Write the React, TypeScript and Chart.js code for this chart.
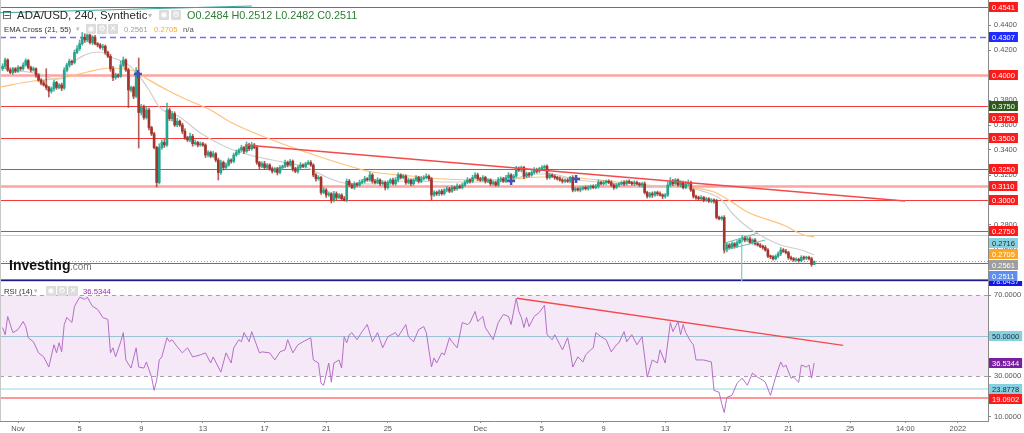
import React, { useEffect, useRef } from 'react';
import { Chart, registerables } from 'chart.js';
Chart.register(...registerables);

const F = '"Liberation Sans", Arial, Helvetica, sans-serif';

// ---------------- DATA ----------------
// 240-minute candles, index 0 = Oct 31 00:00, 6 candles per day
const firstOpen = 0.4050;
const closes = [
  0.4070, 0.4120, 0.4040, 0.4020, 0.4050, 0.4030, 0.4060, 0.4050, 0.4080, 0.4115,
  0.4060, 0.4040, 0.4050, 0.4000, 0.3960, 0.3935, 0.3920, 0.3900, 0.3870, 0.3890,
  0.3940, 0.3900, 0.3920, 0.3895, 0.4040, 0.4080, 0.4110, 0.4100, 0.4180, 0.4210,
  0.4250, 0.4300, 0.4280, 0.4320, 0.4260, 0.4300, 0.4250, 0.4240, 0.4220, 0.4230,
  0.4180, 0.4150, 0.4050, 0.3980, 0.4000, 0.3990, 0.4080, 0.4120, 0.4040, 0.3880,
  0.3900, 0.3830, 0.4020, 0.3700, 0.3740, 0.3660, 0.3720, 0.3580, 0.3530, 0.3420,
  0.3140, 0.3420, 0.3460, 0.3440, 0.3720, 0.3650, 0.3690, 0.3600, 0.3630, 0.3600,
  0.3550, 0.3500, 0.3480, 0.3510, 0.3450, 0.3460, 0.3440, 0.3450, 0.3440, 0.3360,
  0.3380, 0.3350, 0.3370, 0.3320, 0.3220, 0.3300, 0.3260, 0.3280, 0.3320, 0.3310,
  0.3360, 0.3380, 0.3400, 0.3420, 0.3390, 0.3440, 0.3410, 0.3440, 0.3420, 0.3300,
  0.3270, 0.3290, 0.3260, 0.3280, 0.3250, 0.3230, 0.3250, 0.3220, 0.3260, 0.3270,
  0.3300, 0.3280, 0.3310, 0.3250, 0.3230, 0.3260, 0.3280, 0.3270, 0.3290, 0.3300,
  0.3280, 0.3200, 0.3170, 0.3180, 0.3060, 0.3080, 0.3040, 0.3050, 0.3000, 0.3050,
  0.3020, 0.3040, 0.3010, 0.3000, 0.3150, 0.3120, 0.3100, 0.3130, 0.3120, 0.3140,
  0.3150, 0.3170, 0.3160, 0.3200, 0.3150, 0.3140, 0.3160, 0.3130, 0.3140, 0.3100,
  0.3140, 0.3160, 0.3130, 0.3160, 0.3200, 0.3180, 0.3190, 0.3140, 0.3160, 0.3130,
  0.3160, 0.3180, 0.3150, 0.3170, 0.3180, 0.3190, 0.3170, 0.3040, 0.3060, 0.3050,
  0.3070, 0.3050, 0.3080, 0.3090, 0.3070, 0.3100, 0.3090, 0.3110, 0.3100, 0.3120,
  0.3140, 0.3160, 0.3150, 0.3180, 0.3200, 0.3170, 0.3160, 0.3180, 0.3150, 0.3160,
  0.3130, 0.3140, 0.3120, 0.3160, 0.3170, 0.3150, 0.3180, 0.3200, 0.3180, 0.3190,
  0.3250, 0.3240, 0.3260, 0.3190, 0.3210, 0.3200, 0.3220, 0.3240, 0.3230, 0.3250,
  0.3260, 0.3270, 0.3180, 0.3200, 0.3190, 0.3180, 0.3170, 0.3160, 0.3150, 0.3160,
  0.3150, 0.3180, 0.3080, 0.3090, 0.3080, 0.3090, 0.3100, 0.3090, 0.3100, 0.3110,
  0.3100, 0.3110, 0.3140, 0.3130, 0.3140, 0.3150, 0.3140, 0.3120, 0.3100, 0.3120,
  0.3130, 0.3140, 0.3130, 0.3150, 0.3140, 0.3130, 0.3140, 0.3130, 0.3120, 0.3130,
  0.3060, 0.3030, 0.3050, 0.3040, 0.3060, 0.3050, 0.3040, 0.3030, 0.3040, 0.3120,
  0.3150, 0.3130, 0.3160, 0.3120, 0.3140, 0.3100, 0.3130, 0.3140, 0.3080, 0.3030,
  0.3020, 0.3010, 0.3020, 0.3000, 0.3010, 0.2990, 0.3000, 0.2990, 0.2860, 0.2850,
  0.2860, 0.2600, 0.2640, 0.2620, 0.2650, 0.2630, 0.2660, 0.2680, 0.2700, 0.2680,
  0.2690, 0.2660, 0.2680, 0.2650, 0.2640, 0.2630, 0.2620, 0.2600, 0.2550, 0.2545,
  0.2530, 0.2550, 0.2570, 0.2600, 0.2590, 0.2580, 0.2540, 0.2530, 0.2520, 0.2525,
  0.2515, 0.2540, 0.2535, 0.2540, 0.2530, 0.2484, 0.2511,
];
// wick length above / below the body, in 0.0001 units
const hiExt = [
  20, 15, 10, 18, 12, 10, 15, 8, 20, 15,
  10, 12, 15, 8, 10, 12, 20, 130, 10, 15,
  18, 10, 12, 15, 20, 15, 18, 10, 20, 25,
  30, 40, 30, 56, 20, 15, 18, 10, 12, 15,
  10, 12, 15, 20, 15, 10, 30, 24, 10, 15,
  12, 10, 40, 116, 25, 20, 30, 15, 10, 12,
  10, 30, 20, 25, 56, 15, 20, 15, 25, 10,
  15, 20, 10, 25, 15, 20, 10, 15, 12, 10,
  15, 12, 20, 10, 15, 20, 12, 18, 15, 10,
  15, 20, 12, 18, 10, 25, 15, 20, 12, 15,
  10, 15, 20, 12, 10, 15, 10, 12, 15, 10,
  20, 12, 15, 10, 12, 15, 20, 10, 12, 15,
  15, 10, 12, 15, 10, 20, 12, 15, 10, 20,
  15, 12, 10, 20, 18, 15, 12, 15, 10, 20,
  15, 20, 10, 25, 12, 15, 18, 10, 15, 12,
  15, 12, 15, 20, 18, 10, 15, 12, 15, 10,
  12, 15, 10, 18, 15, 20, 12, 10, 15, 12,
  12, 15, 10, 18, 12, 15, 10, 20, 12, 15,
  15, 20, 12, 18, 20, 15, 12, 15, 10, 12,
  10, 15, 12, 20, 15, 12, 18, 20, 12, 15,
  20, 15, 12, 10, 15, 12, 18, 20, 15, 12,
  15, 10, 12, 15, 10, 12, 10, 15, 12, 10,
  12, 10, 15, 12, 10, 15, 10, 12, 15, 10,
  12, 15, 20, 12, 15, 10, 12, 15, 10, 12,
  10, 12, 15, 10, 12, 10, 15, 12, 10, 12,
  15, 10, 12, 15, 10, 12, 15, 10, 12, 25,
  30, 15, 12, 10, 15, 12, 18, 20, 12, 10,
  10, 12, 15, 10, 12, 10, 12, 10, 15, 12,
  12, 15, 20, 12, 15, 10, 15, 12, 15, 10,
  12, 15, 10, 12, 10, 12, 10, 15, 12, 10,
  10, 12, 15, 20, 12, 15, 10, 12, 10, 12,
  10, 15, 12, 10, 12, 12, 1,
];
const loExt = [
  15, 20, 12, 10, 15, 12, 10, 15, 12, 10,
  12, 15, 10, 20, 12, 15, 10, 18, 46, 15,
  20, 15, 12, 20, 10, 12, 15, 20, 12, 10,
  15, 12, 20, 15, 12, 18, 10, 15, 12, 20,
  15, 12, 20, 25, 15, 12, 10, 15, 12, 140,
  15, 20, 12, 284, 20, 15, 12, 20, 15, 12,
  36, 12, 15, 20, 12, 15, 20, 12, 15, 12,
  20, 15, 12, 15, 20, 12, 15, 10, 12, 20,
  15, 12, 10, 15, 60, 15, 20, 12, 10, 15,
  12, 10, 15, 12, 20, 10, 15, 12, 10, 15,
  20, 12, 15, 10, 12, 15, 10, 20, 12, 15,
  12, 15, 10, 20, 12, 15, 10, 12, 15, 10,
  12, 15, 20, 12, 15, 10, 20, 12, 24, 15,
  20, 12, 15, 10, 15, 12, 10, 15, 12, 10,
  12, 15, 10, 12, 15, 12, 10, 15, 12, 20,
  12, 15, 10, 12, 15, 12, 10, 15, 12, 15,
  12, 10, 15, 12, 10, 12, 15, 40, 12, 15,
  15, 12, 10, 15, 12, 10, 15, 12, 10, 12,
  12, 10, 15, 12, 10, 15, 12, 10, 15, 12,
  15, 12, 10, 12, 15, 10, 12, 15, 10, 12,
  10, 12, 15, 20, 12, 15, 10, 12, 15, 10,
  12, 10, 15, 12, 10, 15, 12, 10, 15, 12,
  10, 12, 15, 12, 10, 15, 12, 10, 12, 15,
  10, 12, 15, 10, 12, 15, 10, 12, 15, 10,
  12, 10, 15, 12, 10, 12, 15, 10, 12, 15,
  12, 15, 10, 20, 12, 15, 10, 20, 15, 12,
  12, 15, 10, 12, 15, 12, 10, 15, 12, 15,
  15, 12, 10, 15, 12, 10, 12, 15, 12, 10,
  12, 24, 15, 12, 10, 15, 12, 10, 12, 15,
  12, 10, 15, 12, 10, 12, 15, 10, 12, 15,
  12, 10, 12, 15, 10, 12, 15, 12, 10, 12,
  12, 10, 15, 12, 10, 15, 2,
];

const ema21Idx = [1, 10, 16, 20, 24, 26, 32, 38, 42, 48, 52, 57, 61, 69, 77, 87, 96, 105, 118, 126, 133, 144, 157, 174, 190, 198, 207, 213, 224, 237, 251, 261, 271, 280, 284, 290, 297, 303, 311, 316];
const ema21Val = [0.4040, 0.4024, 0.4000, 0.3965, 0.3976, 0.4064, 0.4160, 0.4184, 0.4144, 0.4096, 0.4024, 0.3880, 0.3744, 0.3664, 0.3536, 0.3424, 0.3360, 0.3320, 0.3264, 0.3184, 0.3136, 0.3128, 0.3152, 0.3144, 0.3144, 0.3160, 0.3208, 0.3208, 0.3160, 0.3136, 0.3104, 0.3104, 0.3080, 0.3000, 0.2896, 0.2784, 0.2696, 0.2640, 0.2600, 0.2561];
const ema55Idx = [-1, 12, 25, 33, 42, 51, 57, 64, 72, 81, 89, 105, 118, 131, 144, 159, 172, 185, 198, 210, 224, 239, 251, 265, 277, 284, 290, 304, 312, 316];
const ema55Val = [0.3904, 0.3952, 0.3984, 0.4024, 0.4056, 0.4032, 0.3960, 0.3880, 0.3800, 0.3720, 0.3620, 0.3480, 0.3384, 0.3296, 0.3224, 0.3192, 0.3168, 0.3160, 0.3168, 0.3184, 0.3176, 0.3144, 0.3120, 0.3104, 0.3064, 0.2984, 0.2904, 0.2800, 0.2720, 0.2705];

const rsiIdx = [0, 1, 2, 4, 6, 8, 9, 10, 12, 14, 16, 18, 20, 21, 22, 23, 24, 25, 27, 28, 30, 32, 33, 35, 37, 39, 41, 42, 43, 44, 46, 47, 48, 50, 52, 53, 55, 56, 58, 59, 60, 61, 62, 64, 65, 66, 68, 70, 72, 74, 77, 79, 81, 82, 85, 87, 89, 90, 92, 93, 94, 96, 97, 100, 101, 104, 106, 108, 110, 111, 113, 115, 117, 120, 121, 123, 124, 125, 127, 128, 129, 131, 132, 133, 134, 135, 136, 138, 140, 142, 144, 146, 148, 150, 153, 154, 157, 158, 160, 162, 164, 165, 167, 168, 169, 171, 172, 174, 175, 177, 179, 181, 182, 184, 185, 187, 188, 189, 191, 193, 195, 197, 198, 200, 201, 202, 203, 204, 205, 207, 209, 211, 212, 214, 215, 217, 218, 220, 221, 222, 224, 226, 227, 229, 230, 231, 233, 235, 237, 239, 240, 242, 243, 245, 247, 249, 251, 253, 255, 256, 258, 260, 261, 263, 264, 265, 266, 268, 269, 270, 273, 276, 277, 279, 280, 281, 282, 284, 286, 288, 290, 292, 294, 296, 297, 299, 301, 303, 304, 305, 307, 308, 310, 311, 313, 314, 315, 316];
const rsiVal = [54, 50.5, 59.5, 51.5, 53, 57, 54.5, 49, 47, 41.5, 39.5, 34.5, 45.5, 41.5, 46.5, 42, 55.5, 59, 56.5, 64.5, 69, 68, 69, 64.5, 63, 59, 58, 41.5, 44, 39.5, 47, 51.5, 38, 34, 44, 34.5, 34, 37, 29.5, 23, 28, 38, 39.5, 49, 47, 48, 44.5, 41.5, 44, 39.5, 40.5, 41.5, 36.5, 39.5, 32, 41.5, 36.5, 44, 48, 47, 51.5, 47, 52, 41.5, 42, 41.5, 38, 42, 43, 48, 41.5, 45.5, 47, 49, 38, 36.5, 26.5, 25.5, 36.5, 27, 36.5, 38, 34, 49.5, 46.5, 50.5, 51.5, 48, 52, 55.5, 47, 51.5, 44, 49.5, 51.5, 49.5, 55.5, 49.5, 47, 53, 54.5, 51.5, 34.5, 39, 36.5, 41.5, 40.5, 49, 47, 44, 56.5, 55.5, 56.5, 62, 57, 59.5, 54, 52, 48, 56.5, 60.5, 59.5, 55.5, 68.5, 62, 59, 54, 59, 54.5, 59.5, 61.5, 65, 50.5, 48, 50.5, 45.5, 43, 49, 43, 34.5, 39.5, 37, 40.5, 43, 44, 51.5, 49.5, 48, 42, 45.5, 46.5, 52, 47, 50.5, 45.5, 49.5, 29.5, 38, 36.5, 43, 36.5, 56.5, 52, 57, 50.5, 55.5, 51.5, 47, 45.5, 38, 38, 37, 23, 22, 16.5, 12, 19.5, 20.5, 26.5, 29, 25.5, 31.5, 29.5, 28, 27, 20.5, 29.5, 37, 34.5, 35.5, 29, 29.5, 27, 35.5, 34.5, 35.5, 29, 36.5344];

const xTickIdx = [6, 30, 54, 78, 102, 126, 150, 186, 210, 234, 258, 282, 306, 330, 351.5, 372];
const xTickLabels = ['Nov', '5', '9', '13', '17', '21', '25', 'Dec', '5', '9', '13', '17', '21', '25', '14:00', '2022'];
const priceTicks = [0.24, 0.26, 0.28, 0.30, 0.32, 0.34, 0.36, 0.38, 0.40, 0.42, 0.44];
const rsiTicks = [10, 20, 30, 40, 50, 60, 70];

const priceLevels = [0.4541, 0.4307, 0.4000, 0.3750, 0.3500, 0.3250, 0.3110, 0.3000, 0.2750, 0.2716, 0.2511, 0.2500];
const rsiLevels = [70, 50, 30, 23.8778, 19.0902];
const rsiBand = [30, 70];

const priceTrendIdx = [94.4, 351.4];
const priceTrendVal = [0.3440, 0.2992];
const rsiTrendIdx = [200.3, 327.3];
const rsiTrendVal = [68.5, 45.2];
const topTrendIdx = [-1, 97];
const topTrendVal = [0.4498, 0.4552];
const flagLowerIdx = [281.3, 297];
const flagLowerVal = [0.2600, 0.2680];
const flagUpperIdx = [281.3, 294.2];
const flagUpperVal = [0.2656, 0.2736];
const flagEdgeIdx = [281.3, 281.3];
const flagEdgeVal = [0.2600, 0.2656];
const flagPoleIdx = [287.8, 287.8];
const flagPoleVal = [0.2694, 0.2352];
const crossIdx = [52.7, 198, 223.3];
const crossVal = [0.4008, 0.3152, 0.3168];

const priceLabelVals = [0.4541, 0.4307, 0.4000, 0.3750, 0.3750, 0.3500, 0.3250, 0.3110, 0.3000, 0.2750, 0.2716, 0.2705, 0.2561, 0.2511];
const rsiLabelVals = [50, 36.5344, 23.8778, 19.0902];
const sepLabelVal = 78.6437;

// ---------------- STYLE ----------------
const RED = '#f23b3b';
const PINK = 'rgba(255,70,70,0.5)';
const BOXRED = '#ff1a1a';
const CYANBOX = '#86d0df';
const UP = '#22a58c';
const DOWN = '#a3342b';
const UPW = 'rgba(34,165,140,0.8)';
const DOWNW = 'rgba(163,52,43,0.8)';

type LS = { c: string; w: number; d?: number[] };
const priceLevelStyle: LS[] = [
  { c: RED, w: 1 },
  { c: '#6f6fff', w: 1.4, d: [6, 4] },
  { c: PINK, w: 2.5 },
  { c: RED, w: 1 },
  { c: RED, w: 1 },
  { c: RED, w: 1 },
  { c: PINK, w: 2.5 },
  { c: RED, w: 1 },
  { c: RED, w: 1 },
  { c: '#a6dbe6', w: 1 },
  { c: '#8aa2c8', w: 1, d: [1, 2] },
  { c: '#4d8a3a', w: 1.2 },
];
const rsiLevelStyle: LS[] = [
  { c: '#a89fae', w: 1, d: [4, 4] },
  { c: '#9cc3d4', w: 1 },
  { c: '#a89fae', w: 1, d: [4, 4] },
  { c: '#b6e3ec', w: 1.5 },
  { c: 'rgba(255,80,80,0.6)', w: 2 },
];
const priceLabelStyle = [
  { bg: BOXRED, fg: '#fff' }, { bg: '#1f2bff', fg: '#fff' }, { bg: BOXRED, fg: '#fff' },
  { bg: '#2d5a1b', fg: '#fff' }, { bg: BOXRED, fg: '#fff' }, { bg: BOXRED, fg: '#fff' },
  { bg: BOXRED, fg: '#fff' }, { bg: BOXRED, fg: '#fff' }, { bg: BOXRED, fg: '#fff' },
  { bg: BOXRED, fg: '#fff' }, { bg: CYANBOX, fg: '#1b2a30' }, { bg: '#ffa51f', fg: '#fff' },
  { bg: '#9e9e9e', fg: '#fff' }, { bg: '#5d8ef0', fg: '#fff' },
];
const rsiLabelStyle = [
  { bg: CYANBOX, fg: '#1b2a30' }, { bg: '#7b1fa2', fg: '#fff' },
  { bg: CYANBOX, fg: '#1b2a30' }, { bg: BOXRED, fg: '#fff' },
];

function hline(ctx: CanvasRenderingContext2D, x0: number, x1: number, py: number, st: LS) {
  ctx.save();
  ctx.strokeStyle = st.c;
  ctx.lineWidth = st.w;
  ctx.setLineDash(st.d || []);
  const yy = Math.round(st.w) % 2 === 1 ? Math.round(py) + 0.5 : Math.round(py);
  ctx.beginPath();
  ctx.moveTo(x0, yy);
  ctx.lineTo(x1, yy);
  ctx.stroke();
  ctx.restore();
}

type Item = { py: number; text: string; bg: string; fg: string };
function drawBoxes(ctx: CanvasRenderingContext2D, x0: number, items: Item[], gap: number) {
  const sorted = items.slice().sort((a, b) => a.py - b.py);
  let prev = -1e9;
  ctx.save();
  ctx.font = `7.5px ${F}`;
  ctx.textBaseline = 'middle';
  ctx.textAlign = 'left';
  for (const it of sorted) {
    const cy = Math.max(it.py, prev + gap);
    prev = cy;
    const w = ctx.measureText(it.text).width + 6;
    const top = Math.round(cy - 5);
    ctx.fillStyle = it.bg;
    ctx.fillRect(x0, top, w, 10);
    ctx.fillStyle = it.fg;
    ctx.fillText(it.text, x0 + 3, top + 5.5);
  }
  ctx.restore();
}

const overlayPlugin = {
  id: 'overlay',
  beforeDatasetsDraw(chart: any) {
    const { ctx, chartArea } = chart;
    const ys = chart.scales.y;
    const rs = chart.scales.rsi;
    const L = chartArea.left;
    const R = chartArea.right;
    ctx.save();
    const y70 = rs.getPixelForValue(rsiBand[1]);
    const y30 = rs.getPixelForValue(rsiBand[0]);
    ctx.fillStyle = 'rgba(156,39,176,0.1)';
    ctx.fillRect(L, y70, R - L, y30 - y70);
    priceLevels.forEach((v, k) => hline(ctx, L, R, ys.getPixelForValue(v), priceLevelStyle[k]));
    rsiLevels.forEach((v, k) => hline(ctx, L, R, rs.getPixelForValue(v), rsiLevelStyle[k]));
    // panel separator
    ctx.fillStyle = 'rgba(120,120,220,0.35)';
    ctx.fillRect(L, ys.bottom - 2, R - L, 3);
    ctx.fillStyle = '#1c1c8c';
    ctx.fillRect(L, ys.bottom - 1.5, R - L, 1.5);
    // left border
    ctx.fillStyle = '#c8c8c8';
    ctx.fillRect(L, chartArea.top, 1, chartArea.bottom - chartArea.top);
    ctx.restore();
  },
  afterDraw(chart: any) {
    const { ctx } = chart;
    const ys = chart.scales.y;
    const rs = chart.scales.rsi;
    const x0 = ys.left + 1;
    ctx.save();
    ctx.beginPath();
    ctx.rect(x0, rs.top, 40, rs.bottom - rs.top);
    ctx.clip();
    drawBoxes(ctx, x0, [{ py: rs.top, text: sepLabelVal.toFixed(4), bg: '#1414e6', fg: '#dfe3ff' }], 0);
    ctx.restore();
    drawBoxes(
      ctx, x0,
      priceLabelVals.map((v, k) => ({ py: ys.getPixelForValue(v), text: v.toFixed(4), ...priceLabelStyle[k] })),
      11.3,
    );
    drawBoxes(
      ctx, x0,
      rsiLabelVals.map((v, k) => ({ py: rs.getPixelForValue(v), text: v.toFixed(4), ...rsiLabelStyle[k] })),
      10.5,
    );
  },
};

const zeroPad = (s: any) => {
  s.paddingTop = 0;
  s.paddingBottom = 0;
  s.paddingLeft = 0;
  s.paddingRight = 0;
};

function Txt(p: { x: number; cy: number; size: number; color: string; bold?: boolean; family?: string; children: any }) {
  const h = Math.ceil(p.size * 1.3);
  return (
    <span
      style={{
        position: 'absolute', left: p.x, top: p.cy - h / 2, height: h, lineHeight: `${h}px`,
        fontSize: p.size, color: p.color, fontWeight: p.bold ? 700 : 400,
        fontFamily: p.family || F, whiteSpace: 'nowrap',
      }}
    >
      {p.children}
    </span>
  );
}

function Btn(p: { x: number; cy: number; g: string }) {
  return (
    <span
      style={{
        position: 'absolute', left: p.x, top: p.cy - 5, width: 10, height: 10, background: '#dcdcdc',
        borderRadius: 1, color: '#fff', fontSize: 8, lineHeight: '10px', textAlign: 'center',
        fontFamily: '"DejaVu Sans", sans-serif',
      }}
    >
      {p.g}
    </span>
  );
}

export default function App() {
  const ref = useRef<HTMLCanvasElement>(null);
  const opens = closes.map((c, i) => (i === 0 ? firstOpen : closes[i - 1]));
  const highs = closes.map((c, i) => Math.max(c, opens[i]) + hiExt[i] / 10000);
  const lows = closes.map((c, i) => Math.min(c, opens[i]) - loExt[i] / 10000);
  const last = closes.length - 1;

  useEffect(() => {
    const canvas = ref.current!;
    const up = closes.map((c, i) => c >= opens[i]);
    const pts = (xs: number[], ys: number[]) => xs.map((x, k) => ({ x, y: ys[k] }));
    const lineDs = (data: any[], color: string, width: number, order: number, yAxisID = 'y', extra: any = {}) => ({
      type: 'line', data, borderColor: color, borderWidth: width, pointRadius: 0, pointHoverRadius: 0,
      fill: false, order, yAxisID, xAxisID: 'x', ...extra,
    });

    const chart = new Chart(canvas, {
      type: 'bar',
      data: {
        datasets: [
          lineDs(pts(ema55Idx, ema55Val), '#ffc17a', 1.2, 7, 'y', { cubicInterpolationMode: 'monotone' }),
          lineDs(pts(ema21Idx, ema21Val), '#cfcfcf', 1.2, 6, 'y', { cubicInterpolationMode: 'monotone' }),
          {
            type: 'bar', data: closes.map((c, i) => ({ x: i, y: [lows[i], highs[i]] })),
            backgroundColor: up.map((u) => (u ? UPW : DOWNW)), barThickness: 1, minBarLength: 1,
            grouped: false, borderWidth: 0, order: 5, yAxisID: 'y', xAxisID: 'x',
          },
          {
            type: 'bar', data: closes.map((c, i) => ({ x: i, y: [opens[i], c] })),
            backgroundColor: up.map((u) => (u ? UP : DOWN)), barThickness: 2, minBarLength: 1,
            grouped: false, borderWidth: 0, order: 4, yAxisID: 'y', xAxisID: 'x',
          },
          lineDs(pts(priceTrendIdx, priceTrendVal), '#f44a4a', 1.3, 3),
          lineDs(pts(topTrendIdx, topTrendVal), '#3fa89a', 1.2, 3),
          lineDs(pts(flagLowerIdx, flagLowerVal), '#5cc3b3', 1, 3),
          lineDs(pts(flagUpperIdx, flagUpperVal), '#5cc3b3', 1, 3),
          lineDs(pts(flagEdgeIdx, flagEdgeVal), '#5cc3b3', 1, 3),
          lineDs(pts(flagPoleIdx, flagPoleVal), '#7ccfc2', 1.2, 3),
          lineDs(pts(rsiIdx, rsiVal), '#b46ec6', 1, 2, 'rsi'),
          lineDs(pts(rsiTrendIdx, rsiTrendVal), '#f44a4a', 1.3, 2, 'rsi'),
          {
            type: 'line', data: pts(crossIdx, crossVal), showLine: false, pointStyle: 'cross',
            pointRadius: 4, pointHoverRadius: 4, pointBorderWidth: 2.5, pointBorderColor: '#4b4fae', borderColor: '#4b4fae',
            order: 1, yAxisID: 'y', xAxisID: 'x',
          },
        ] as any,
      },
      options: {
        animation: false,
        responsive: false,
        maintainAspectRatio: false,
        events: [],
        layout: { padding: 0, autoPadding: false },
        plugins: { legend: { display: false }, tooltip: { enabled: false } },
        scales: {
          x: {
            type: 'linear', position: 'bottom', min: -1.01, max: 383.7, offset: false,
            grid: { display: true, drawOnChartArea: false, drawTicks: true, tickLength: 2, color: '#888', offset: false },
            border: { display: true, color: '#8a8a8a' },
            ticks: {
              autoSkip: false, maxRotation: 0, padding: 1, color: '#555',
              font: { family: F, size: 7.5 },
              callback: (v: any) => {
                const k = xTickIdx.indexOf(Number(v));
                return k >= 0 ? xTickLabels[k] : '';
              },
            },
            afterBuildTicks: (s: any) => { s.ticks = xTickIdx.map((v) => ({ value: v })); },
            afterFit: (s: any) => { s.height = 12; zeroPad(s); },
          },
          y: {
            type: 'linear', position: 'right', stack: 'panes', stackWeight: 281, min: 0.2352, max: 0.46,
            grid: { display: true, drawOnChartArea: false, drawTicks: true, tickLength: 3, color: '#888' },
            border: { display: true, color: '#8a8a8a' },
            ticks: { padding: 3, color: '#555', font: { family: F, size: 7.5 }, callback: (v: any) => Number(v).toFixed(4) },
            afterBuildTicks: (s: any) => { s.ticks = priceTicks.map((v) => ({ value: v })); },
            afterFit: (s: any) => { s.width = 36; zeroPad(s); },
          },
          rsi: {
            type: 'linear', position: 'right', stack: 'panes', stackWeight: 140, min: 7.83, max: 77.02,
            grid: { display: true, drawOnChartArea: false, drawTicks: true, tickLength: 3, color: '#888' },
            border: { display: true, color: '#8a8a8a' },
            ticks: { padding: 3, color: '#555', font: { family: F, size: 7.5 }, callback: (v: any) => Number(v).toFixed(4) },
            afterBuildTicks: (s: any) => { s.ticks = rsiTicks.map((v) => ({ value: v })); },
            afterFit: (s: any) => { s.width = 36; zeroPad(s); },
          },
        },
      } as any,
      plugins: [overlayPlugin as any],
    });
    return () => chart.destroy();
  }, []);

  const ohlc = `O${opens[last].toFixed(4)} H${highs[last].toFixed(4)} L${lows[last].toFixed(4)} C${closes[last].toFixed(4)}`;

  return (
    <div style={{ position: 'absolute', left: 0, top: 0, width: 1024, height: 433, background: '#fff', overflow: 'hidden' }}>
      <canvas ref={ref} width={1024} height={433} style={{ display: 'block', width: 1024, height: 433 }} />
      <div style={{ position: 'absolute', left: 0, top: 0, width: 1024, height: 433, pointerEvents: 'none' }}>
        <Txt x={2} cy={15} size={12} color="#555" family='"DejaVu Sans", sans-serif'>⊟</Txt>
        <Txt x={17} cy={15} size={11.5} color="#2a2a2a">ADA/USD, 240, Synthetic</Txt>
        <Txt x={148} cy={15} size={8} color="#bbb" family='"DejaVu Sans", sans-serif'>▾</Txt>
        <Btn x={159} cy={15} g="◉" />
        <Btn x={171} cy={15} g="⚙" />
        <Txt x={187} cy={15} size={10.8} color="#2e7d32">{ohlc}</Txt>

        <Txt x={4} cy={29} size={7.7} color="#333">EMA Cross (21, 55)</Txt>
        <Txt x={76} cy={29} size={7} color="#bbb" family='"DejaVu Sans", sans-serif'>▾</Txt>
        <Btn x={86} cy={29} g="◉" />
        <Btn x={97} cy={29} g="⚙" />
        <Btn x={108} cy={29} g="✕" />
        <Txt x={124} cy={29} size={7.7} color="#9e9e9e">{ema21Val[ema21Val.length - 1].toFixed(4)}</Txt>
        <Txt x={154} cy={29} size={7.7} color="#ffa726">{ema55Val[ema55Val.length - 1].toFixed(4)}</Txt>
        <Txt x={183} cy={29} size={7.7} color="#555">n/a</Txt>

        <Txt x={4} cy={291} size={7.7} color="#333">RSI (14)</Txt>
        <Txt x={34} cy={291} size={7} color="#bbb" family='"DejaVu Sans", sans-serif'>▾</Txt>
        <Btn x={46} cy={291} g="◉" />
        <Btn x={57} cy={291} g="⚙" />
        <Btn x={68} cy={291} g="✕" />
        <Txt x={83} cy={291} size={7.7} color="#9c27b0">{rsiVal[rsiVal.length - 1].toFixed(4)}</Txt>

        <Txt x={9} cy={265} size={14} bold color="#111">Investing</Txt>
        <Txt x={70} cy={266.5} size={10} color="#777">.com</Txt>
      </div>
    </div>
  );
}
